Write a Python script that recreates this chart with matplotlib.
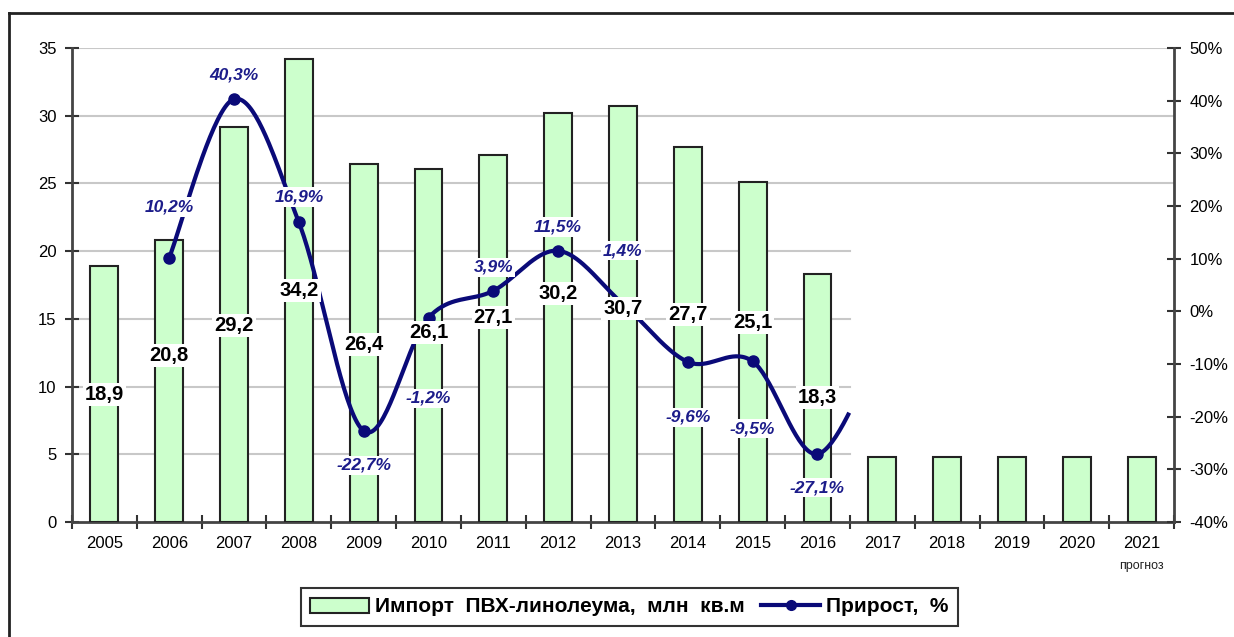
import numpy as np
import matplotlib
matplotlib.use("Agg")
import matplotlib.pyplot as plt
from matplotlib.lines import Line2D
from matplotlib.patches import Patch

plt.rcParams['font.family'] = ['Liberation Sans', 'DejaVu Sans']

# data
years = ['2005', '2006', '2007', '2008', '2009', '2010', '2011', '2012', '2013',
         '2014', '2015', '2016', '2017', '2018', '2019', '2020', '2021']
imports = [18.9, 20.8, 29.2, 34.2, 26.4, 26.1, 27.1, 30.2, 30.7, 27.7, 25.1, 18.3,
           4.8, 4.8, 4.8, 4.8, 4.8]
labelled_bars = 12  # forecast bars carry no value label

growth_years = ['2006', '2007', '2008', '2009', '2010', '2011', '2012', '2013',
                '2014', '2015', '2016', '2017']
growth = [10.2, 40.3, 16.9, -22.7, -1.2, 3.9, 11.5, 1.4, -9.6, -9.5, -27.1, -5.5]
growth_shown = 11  # the 2017 point is hidden, only the curve stub shows

# label placement (left axis units / percent units)
bar_label_y = [9.4, 12.3, 14.5, 17.1, 13.1, 14.0, 15.1, 16.9, 15.8, 15.3, 14.7, 9.2]
pct_label_y = [19.8, 44.9, 21.7, -29.2, -16.5, 8.4, 16.0, 11.5, -20.1, -22.3, -33.5]

navy = '#0a0a78'
bar_face = '#ccffcc'


def excel_smooth(x, y, n=40):
    pts = np.column_stack([x, y]).astype(float)
    out = []
    for i in range(len(pts) - 1):
        p0 = pts[max(i - 1, 0)]
        p1 = pts[i]
        p2 = pts[i + 1]
        p3 = pts[min(i + 2, len(pts) - 1)]
        c1 = p1 + (p2 - p0) / 6
        c2 = p2 - (p3 - p1) / 6
        t = np.linspace(0, 1, n)[:, None]
        seg = (1 - t) ** 3 * p1 + 3 * (1 - t) ** 2 * t * c1 + 3 * (1 - t) * t ** 2 * c2 + t ** 3 * p2
        out.append(seg)
    return np.vstack(out)


fig = plt.figure(figsize=(12.34, 6.37), dpi=100)
ax = fig.add_axes([72 / 1234, 1 - 522 / 637, (1174 - 72) / 1234, (522 - 48) / 637])
ax2 = ax.twinx()

x = np.arange(len(years))
ax.bar(x, imports, width=0.43, color=bar_face, edgecolor='#222222', linewidth=1.5, zorder=3)

ax.set_xlim(-0.5, len(years) - 0.5)
ax.set_ylim(0, 35)
ax2.set_ylim(-40, 50)

# gridlines: lower ones stop after 2016
cut = (labelled_bars) / len(years)
for v in [5, 10, 15, 20]:
    ax.axhline(v, xmin=0, xmax=cut, color='#c8c8c8', lw=1.5, zorder=1)
for v in [25, 30, 35]:
    ax.axhline(v, color='#c8c8c8', lw=1.5, zorder=1)

# growth curve
gx = np.array([years.index(g) for g in growth_years])
curve = excel_smooth(gx, growth)
keep = curve[:, 0] <= gx[growth_shown - 1] + 0.5
ax2.plot(curve[keep, 0], curve[keep, 1], color=navy, lw=3, zorder=2, solid_capstyle='butt')
ax2.plot(gx[:growth_shown], growth[:growth_shown], 'o', color=navy, ms=8, zorder=2)

# percent labels
for xi, g, ly in zip(gx[:growth_shown], growth[:growth_shown], pct_label_y):
    ax2.text(xi, ly, f"{g:.1f}%".replace('.', ','), ha='center', va='center',
             fontsize=12.5, fontweight='bold', fontstyle='italic', color='#1c1c8a',
             bbox=dict(facecolor='white', edgecolor='none', pad=1.5), zorder=5)

# bar value labels
for xi, v, ly in zip(x[:labelled_bars], imports[:labelled_bars], bar_label_y):
    ax2.text(xi, ly, f"{v:.1f}".replace('.', ','), ha='center', va='center',
             fontsize=14.5, fontweight='bold', color='black', transform=ax.transData,
             bbox=dict(facecolor='white', edgecolor='none', pad=1.5), zorder=6)

# axes styling
ax.set_xticks(np.arange(-0.5, len(years), 1))
ax.set_xticklabels([])
ax.set_xticks(x, minor=True)
ax.set_xticklabels(years, minor=True, fontsize=12)
ax.tick_params(axis='x', which='minor', length=0, pad=10)
ax.tick_params(axis='x', which='major', direction='inout', length=10, width=1.5, color='#333333')
ax.set_yticks(np.arange(0, 36, 5))
ax.tick_params(axis='y', direction='inout', length=10, width=1.5, color='#333333', labelsize=12, pad=6)
ax2.set_yticks(np.arange(-40, 51, 10))
ax2.set_yticklabels([f"{v}%" for v in range(-40, 51, 10)], fontsize=12)
ax2.tick_params(axis='y', direction='inout', length=10, width=1.5, color='#333333', pad=6)

for a in (ax, ax2):
    for side in ('top', 'right', 'left', 'bottom'):
        a.spines[side].set_visible(False)
ax.spines['left'].set_visible(True)
ax.spines['bottom'].set_visible(True)
ax2.spines['right'].set_visible(True)
for s in (ax.spines['left'], ax.spines['bottom'], ax2.spines['right']):
    s.set_color('#444444')
    s.set_linewidth(2)

ax.text(len(years) - 1, -0.08, 'прогноз', transform=ax.get_xaxis_transform(),
        ha='center', va='top', fontsize=9, color='#222222')

# legend
handles = [Patch(facecolor=bar_face, edgecolor='#222222', linewidth=1.5),
           Line2D([0], [0], color=navy, lw=3, marker='o', ms=7)]
leg = fig.legend(handles, ['Импорт  ПВХ-линолеума,  млн  кв.м', 'Прирост,  %'],
                 loc='center', bbox_to_anchor=(0.51, 1 - 607 / 637), ncol=2,
                 prop={'weight': 'bold', 'size': 15}, frameon=True, fancybox=False,
                 edgecolor='black', handlelength=2.8, handletextpad=0.3, columnspacing=0.8,
                 borderpad=0.45)
leg.get_frame().set_linewidth(1.5)

# outer frame
fig.add_artist(Line2D([9 / 1234, 1.0], [1 - 13 / 637, 1 - 13 / 637], color='#222222', lw=2))
fig.add_artist(Line2D([9 / 1234, 9 / 1234], [0, 1 - 13 / 637], color='#222222', lw=2))

fig.savefig('out.png', dpi=100)
